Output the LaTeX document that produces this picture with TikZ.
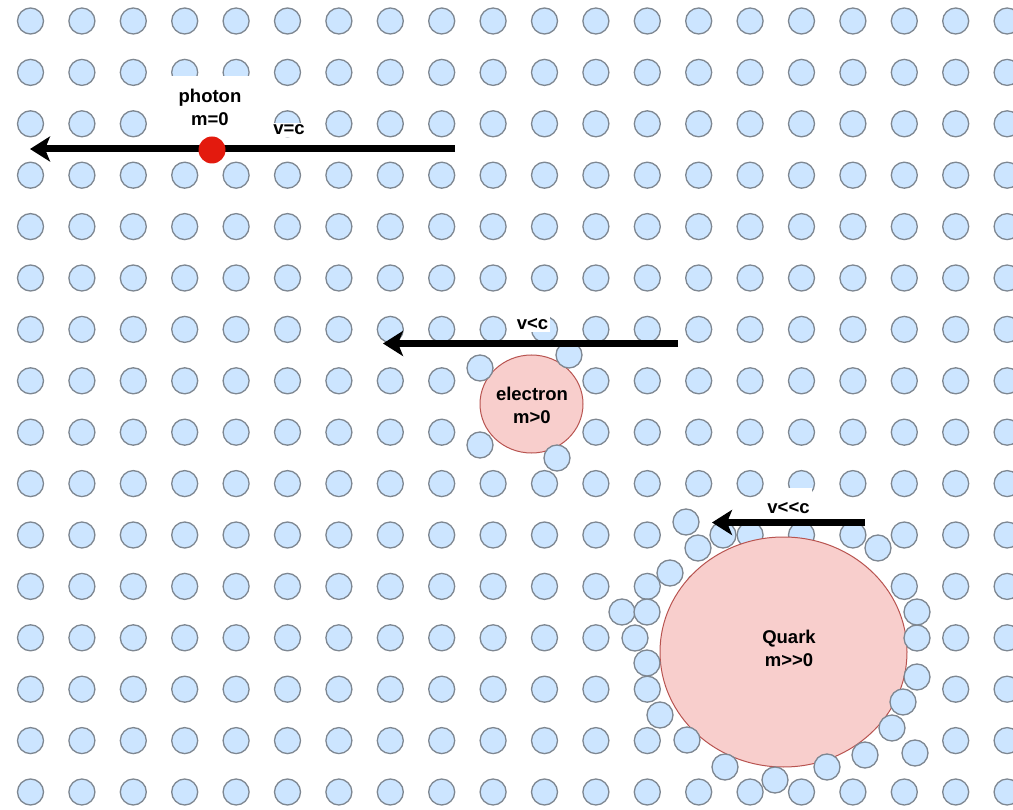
\documentclass[tikz,border=0pt]{standalone}
\usepackage{fontspec}
\setmainfont{Liberation Sans}[Ligatures=TeXOff]
\usetikzlibrary{arrows.meta,shapes.geometric}
\definecolor{dotfill}{HTML}{CCE5FF}
\definecolor{dotline}{HTML}{7E8791}
\definecolor{massfill}{HTML}{F8CECC}
\definecolor{massline}{HTML}{B85450}
\definecolor{photonred}{HTML}{E31A0E}
\begin{document}
\begin{tikzpicture}[x=1pt,y=-1pt,
  field/.style={circle,draw=dotline,fill=dotfill,line width=1.3pt,minimum size=26pt,inner sep=0pt},
  mass/.style={ellipse,draw=massline,fill=massfill,line width=1pt,inner sep=0pt},
  lbl/.style={font=\fontsize{18.5}{23}\selectfont\bfseries,align=center,inner sep=0pt},
  vlab/.style={font=\fontsize{18.5}{23}\selectfont\bfseries,fill=white,inner xsep=2pt,inner ysep=2pt,anchor=base},
  move/.style={-{Stealth[length=20pt,width=25pt,inset=5pt]},line width=7pt,black}]
\useasboundingbox (0,0) rectangle (1013,810);
\fill[white] (0,0) rectangle (1013,810);
% grid of field quanta, minus the ones pushed aside
\foreach \p in {3/2,4/2,9/7,9/8,10/7,10/8,13/10,12/12,17/12,17/13,13/14,16/14,17/14}{\expandafter\gdef\csname skip@\p\endcsname{}}
\foreach \i in {0,...,19}{\foreach \j in {0,...,15}{%
  \ifcsname skip@\i/\j\endcsname\else
    \node[field] (g-\i-\j) at ({30.5+51.4*\i},{21+51.4*\j}) {};
  \fi}}
% massive particles
\node[mass,minimum width=103pt,minimum height=98pt] (electron) at (531.5,404) {};
\node[mass,minimum width=247pt,minimum height=230pt] (quark) at (783.5,652) {};
% displaced field quanta
\foreach \px/\py [count=\k] in {480/368,569/355,480/445,557/458,686/522,723/535,698/548,670/573,622/612,647/612,635/638,647/663,660/715,687/740,725/767,775/780,827/767,865/755,915/753,892/728,903/702,917/677,917/638,917/612,878/548}{%
  \node[field] (d\k) at (\px,\py) {};}
% texts
\node[lbl] (electron-text) at (532,405) {electron\\m>0};
\node[lbl] (quark-text) at (789,648) {Quark\\m>>0};
\node[lbl,fill=white,minimum width=90pt,minimum height=62pt] (photon-label) at (210,107) {photon\\m=0};
\node[vlab] (vc) at (289,135) {v=c};
\node[vlab,text height=15pt] (vlc) at (532.5,330) {v<c};
\node[vlab,text height=25pt,inner ysep=0pt] (vllc) at (788.5,513) {v<<c};
% motion arrows
\coordinate (p-from) at (455,149);
\coordinate (p-to) at (30,149);
\coordinate (e-from) at (678,343.5);
\coordinate (e-to) at (383,343.5);
\coordinate (q-from) at (865,522.5);
\coordinate (q-to) at (712,522.5);
\draw[move] (p-from) -- (p-to);
\draw[move] (e-from) -- (e-to);
\draw[move] (q-from) -- (q-to);
% photon
\node[circle,fill=photonred,minimum size=27pt,inner sep=0pt] (photon) at (212,150) {};
\end{tikzpicture}
\end{document}
